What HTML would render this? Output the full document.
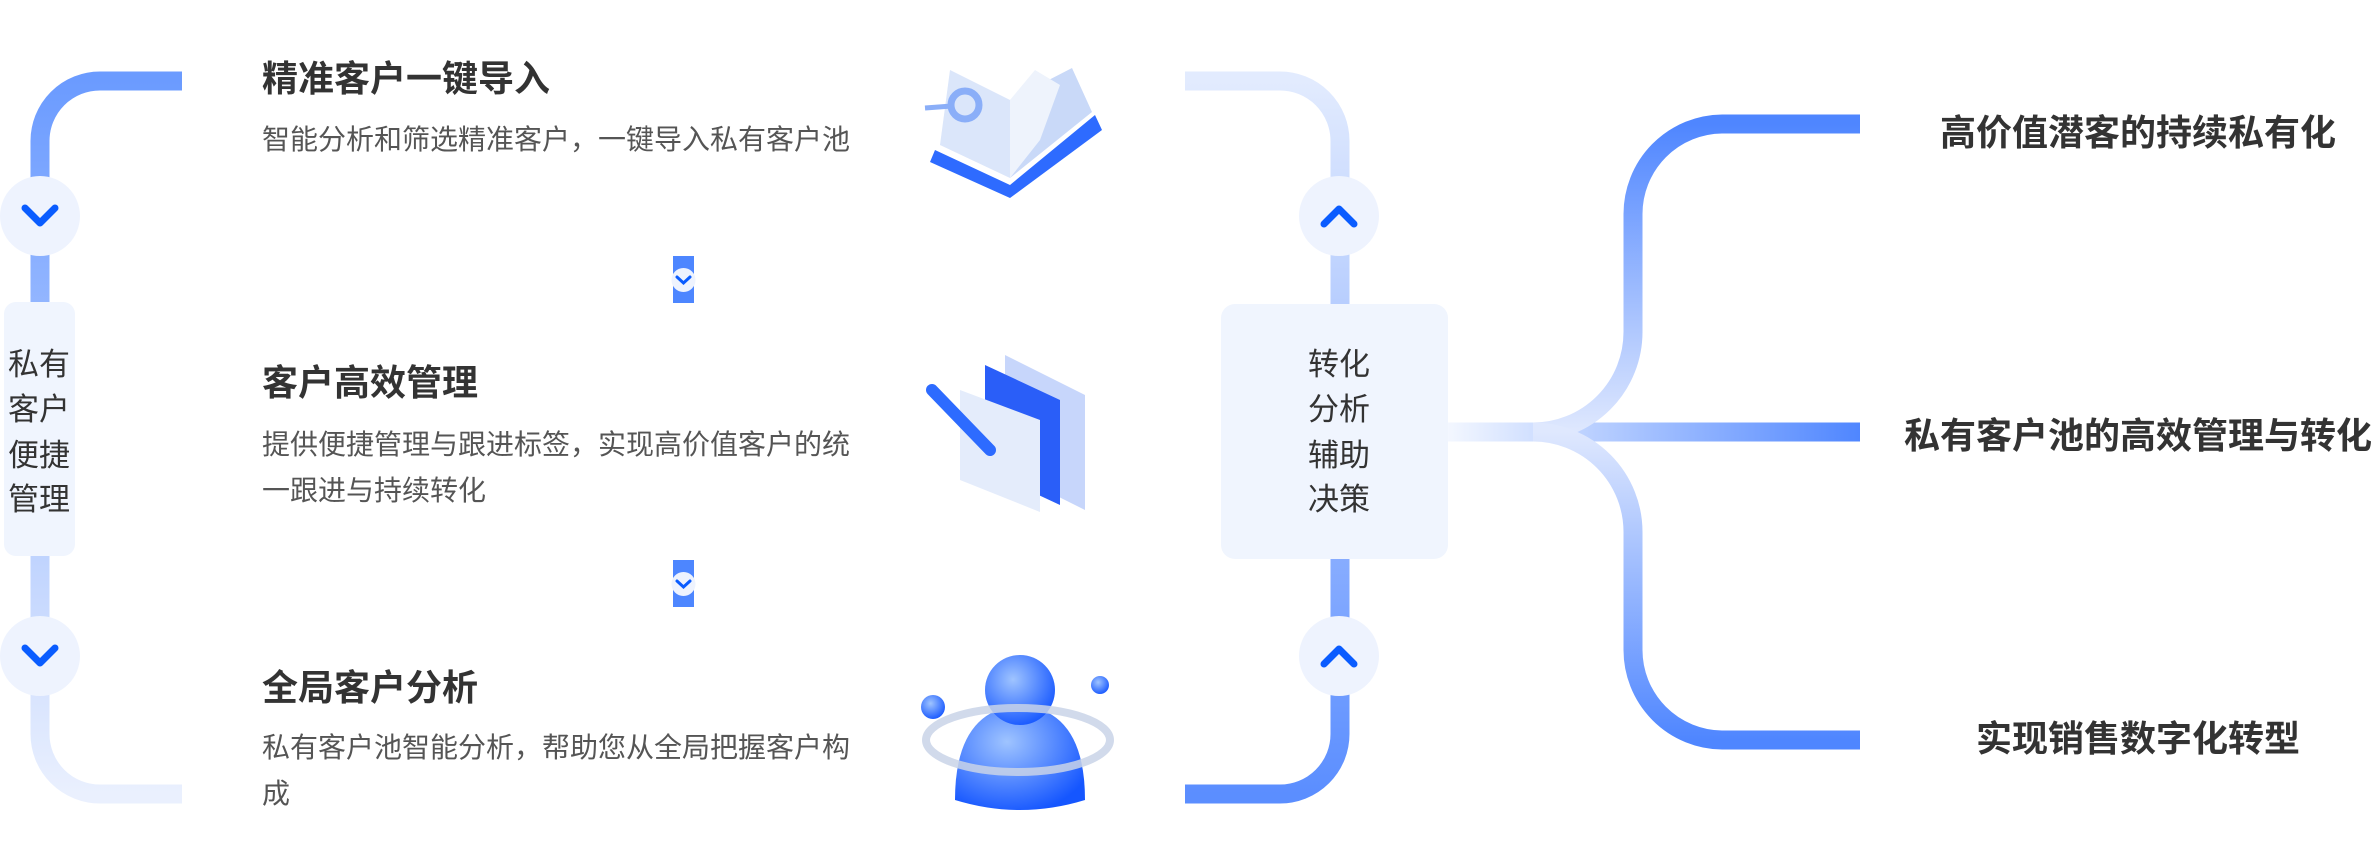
<!DOCTYPE html>
<html><head><meta charset="utf-8"><style>
html,body{margin:0;padding:0;background:#fff;}
svg{display:block;}
text{font-family:"Liberation Sans","Noto Sans CJK SC",sans-serif;}
.t{font-size:36px;font-weight:bold;fill:#333;}
.s{font-size:28px;fill:#555;}
.v{font-size:31px;fill:#333;}
</style></head><body>
<svg width="2380" height="864" viewBox="0 0 2380 864" xmlns="http://www.w3.org/2000/svg">
<defs>
<linearGradient id="gl" gradientUnits="userSpaceOnUse" x1="0" y1="81" x2="0" y2="794"><stop offset="0" stop-color="#6b9bff"/><stop offset="1" stop-color="#eaf0fe"/></linearGradient>
<linearGradient id="gr" gradientUnits="userSpaceOnUse" x1="0" y1="81" x2="0" y2="794"><stop offset="0" stop-color="#e2ebfe"/><stop offset="1" stop-color="#5b8eff"/></linearGradient>
<linearGradient id="gm" gradientUnits="userSpaceOnUse" x1="1448" y1="0" x2="1860" y2="0"><stop offset="0" stop-color="#f3f7ff"/><stop offset="1" stop-color="#4f86ff"/></linearGradient>
<linearGradient id="gu" gradientUnits="userSpaceOnUse" x1="0" y1="124" x2="0" y2="432"><stop offset="0" stop-color="#4f86ff"/><stop offset="1" stop-color="#dfe8fe"/></linearGradient>
<linearGradient id="gd" gradientUnits="userSpaceOnUse" x1="0" y1="432" x2="0" y2="740"><stop offset="0" stop-color="#dfe8fe"/><stop offset="1" stop-color="#4f86ff"/></linearGradient>
<radialGradient id="sp" cx="0.4" cy="0.35" r="0.7"><stop offset="0" stop-color="#9fc4ff"/><stop offset="1" stop-color="#1556ff"/></radialGradient>
</defs>
<path d="M182,81 H100 A60,60 0 0 0 40,141 V734 A60,60 0 0 0 100,794 H182" fill="none" stroke="url(#gl)" stroke-width="19"/>
<path d="M1185,81 H1280 A60,60 0 0 1 1340,141 V734 A60,60 0 0 1 1280,794 H1185" fill="none" stroke="url(#gr)" stroke-width="19"/>
<path d="M1448,432 H1860" stroke="url(#gm)" stroke-width="19" fill="none"/>
<path d="M1860,124 H1722 A90,90 0 0 0 1633,214 V332 A100,100 0 0 1 1533,432" stroke="url(#gu)" stroke-width="19" fill="none"/>
<path d="M1860,740 H1722 A90,90 0 0 1 1633,650 V532 A100,100 0 0 0 1533,432" stroke="url(#gd)" stroke-width="19" fill="none"/>
<g fill="#eef3fe">
<circle cx="40" cy="216" r="40"/><circle cx="40" cy="656" r="40"/>
<circle cx="1339" cy="216" r="40"/><circle cx="1339" cy="656" r="40"/>
</g>
<g fill="none" stroke="#0a5cff" stroke-width="7" stroke-linecap="round" stroke-linejoin="round">
<polyline points="25,208 40,223 55,208"/><polyline points="25,648 40,663 55,648"/>
<polyline points="1324,224 1339,209 1354,224"/><polyline points="1324,664 1339,649 1354,664"/>
</g>
<rect x="4" y="302" width="71" height="254" rx="12" fill="#f0f5fe"/>
<rect x="1221" y="304" width="227" height="255" rx="14" fill="#f0f5fe"/>
<g class="v" text-anchor="middle">
<text x="39" y="375">私有</text><text x="39" y="420">客户</text><text x="39" y="466">便捷</text><text x="39" y="510">管理</text>
<text x="1339" y="375">转化</text><text x="1339" y="420">分析</text><text x="1339" y="466">辅助</text><text x="1339" y="510">决策</text>
</g>
<rect x="673" y="256" width="21" height="47" fill="#4d86ff"/><circle cx="683.5" cy="280" r="12" fill="#eef3fe"/>
<polyline points="677,277 683.5,283 690,277" fill="none" stroke="#0a5cff" stroke-width="3" stroke-linecap="round"/>
<rect x="673" y="560" width="21" height="47" fill="#4d86ff"/><circle cx="683.5" cy="584" r="12" fill="#eef3fe"/>
<polyline points="677,581 683.5,587 690,581" fill="none" stroke="#0a5cff" stroke-width="3" stroke-linecap="round"/>
<text class="t" x="262" y="91">精准客户一键导入</text>
<text class="s" x="262" y="149">智能分析和筛选精准客户，一键导入私有客户池</text>
<text class="t" x="262" y="395">客户高效管理</text>
<text class="s" x="262" y="454">提供便捷管理与跟进标签，实现高价值客户的统</text>
<text class="s" x="262" y="500">一跟进与持续转化</text>
<text class="t" x="262" y="700">全局客户分析</text>
<text class="s" x="262" y="757">私有客户池智能分析，帮助您从全局把握客户构</text>
<text class="s" x="262" y="803">成</text>
<g class="t" text-anchor="middle">
<text x="2138" y="145">高价值潜客的持续私有化</text>
<text x="2138" y="448">私有客户池的高效管理与转化</text>
<text x="2138" y="751">实现销售数字化转型</text>
</g>
<g>
<polygon points="935,150 1010,185 1095,115 1102,130 1010,198 930,162" fill="#2e6bff"/>
<polygon points="940,145 1010,178 1010,100 950,70" fill="#dbe6fa"/>
<polygon points="1010,178 1092,112 1072,68 1010,100" fill="#c9d9f8"/>
<polygon points="1010,178 1040,140 1060,85 1035,70 1010,100" fill="#eef3fc"/>
<circle cx="965" cy="105" r="14" fill="none" stroke="#8aaef8" stroke-width="7"/>
<line x1="925" y1="108" x2="952" y2="106" stroke="#8aaef8" stroke-width="5"/>
</g>
<g>
<polygon points="1005,355 1085,395 1085,510 1005,470" fill="#c7d6fb"/>
<polygon points="985,365 1060,400 1060,505 985,470" fill="#2a5ef8"/>
<polygon points="960,390 1040,420 1040,512 960,480" fill="#e4ecfb"/>
<line x1="932" y1="390" x2="990" y2="450" stroke="#2d6bff" stroke-width="12" stroke-linecap="round"/>
</g>
<g>
<path d="M955,800 Q955,710 1020,705 Q1085,710 1085,800 Q1020,820 955,800 Z" fill="url(#sp)"/>
<circle cx="1020" cy="690" r="35" fill="url(#sp)"/>
<ellipse cx="1018" cy="740" rx="92" ry="32" fill="none" stroke="#c9d4e8" stroke-width="8" opacity="0.85"/>
<circle cx="933" cy="707" r="12" fill="url(#sp)"/>
<circle cx="1100" cy="685" r="9" fill="url(#sp)"/>
</g>
</svg>
</body></html>
